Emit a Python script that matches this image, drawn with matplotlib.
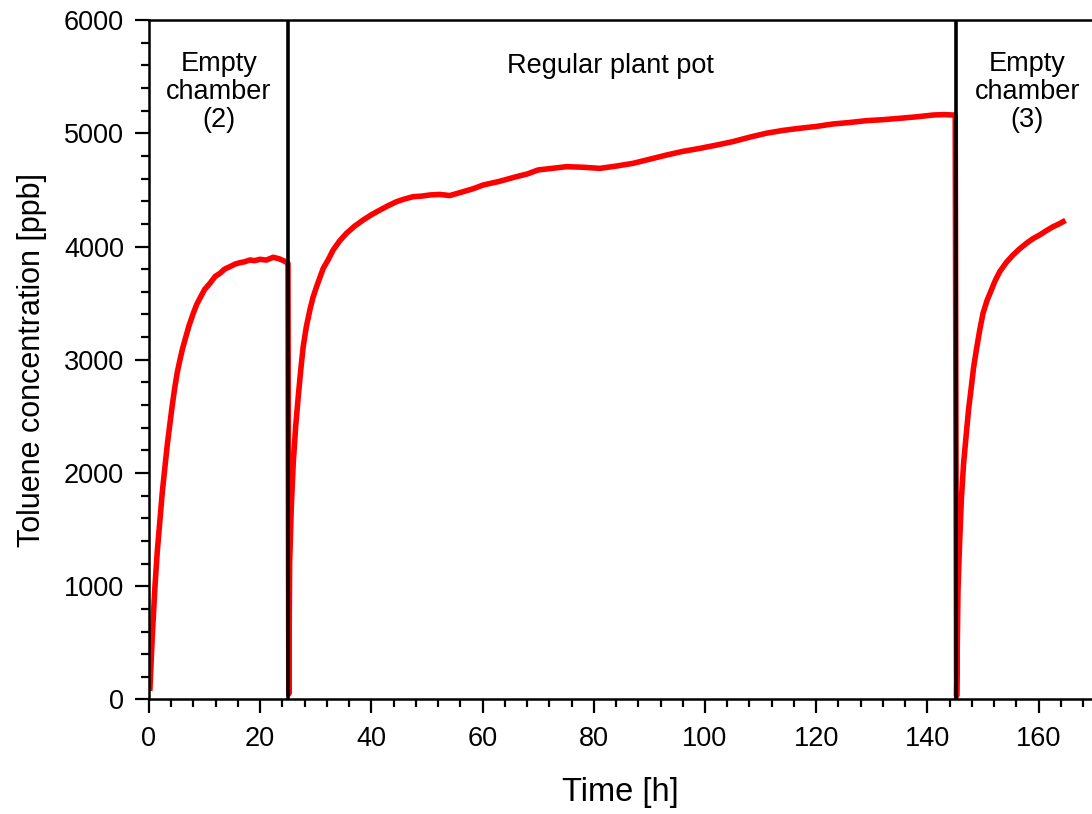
import matplotlib
matplotlib.use("Agg")
import matplotlib.pyplot as plt
from matplotlib.ticker import MultipleLocator

plt.rcParams['font.family'] = ['Liberation Sans', 'DejaVu Sans']

# toluene readings [h], [ppb]
time_h = [0.18, 0.6, 1.08, 1.5, 1.98, 2.4, 2.88, 3.3, 3.78, 4.2, 4.67, 5.1, 5.57,
          6.0, 6.47, 7.2, 7.97, 8.6, 9.17, 10.0, 10.97, 11.9, 12.76, 13.6, 14.56,
          15.5, 16.36, 17.2, 18.16, 19.0, 19.96, 21.1, 22.35, 23.5, 24.57, 25.0,
          25.15, 25.3, 25.6, 25.95, 26.4, 26.85, 27.3, 27.74, 28.3, 28.94, 29.5,
          30.14, 30.7, 31.34, 32.2, 33.13, 34.3, 35.53, 37.0, 38.53, 40.0, 41.53,
          43.0, 44.53, 46.0, 47.52, 49.0, 50.52, 52.3, 54.1, 56.51, 58.3, 60.1,
          63.0, 66.1, 68.0, 70.0, 72.5, 75.1, 78.0, 81.1, 84.0, 87.1, 90.0, 93.1,
          96.0, 99.1, 102.0, 105.0, 108.0, 111.0, 114.0, 117.0, 120.0, 123.0,
          126.0, 129.0, 132.0, 135.0, 138.0, 141.0, 143.0, 145.0,
          145.25, 145.5, 145.8, 146.1, 146.5, 147.0, 147.4, 147.9, 148.3, 148.8,
          149.4, 150.0, 150.7, 151.5, 152.2, 153.0, 154.2, 155.4, 156.6, 157.8,
          159.0, 160.2, 161.4, 162.6, 163.5, 164.4]
conc_ppb = [99, 560, 996, 1310, 1585, 1830, 2056, 2250, 2439, 2600, 2762, 2890, 2998,
            3090, 3174, 3300, 3410, 3490, 3543, 3620, 3675, 3735, 3763, 3800, 3822,
            3845, 3857, 3865, 3881, 3875, 3887, 3880, 3905, 3890, 3866, 3850,
            50, 1203, 1700, 2086, 2420, 2674, 2910, 3115, 3290, 3439, 3550,
            3645, 3720, 3807, 3880, 3969, 4050, 4117, 4180, 4234, 4280, 4322,
            4360, 4396, 4420, 4440, 4445, 4455, 4460, 4450, 4484, 4510, 4543,
            4575, 4617, 4640, 4676, 4690, 4705, 4700, 4690, 4710, 4735, 4770, 4808,
            4840, 4867, 4895, 4926, 4965, 5000, 5025, 5044, 5060, 5082,
            5095, 5111, 5120, 5132, 5145, 5161, 5165, 5160,
            30, 967, 1400, 1762, 2080, 2350, 2560, 2762, 2930, 3086,
            3260, 3410, 3520, 3616, 3700, 3777, 3860, 3925, 3980, 4028,
            4070, 4102, 4140, 4175, 4195, 4219]

switch_times = [25.0, 145.2]
phase_labels = ["Empty\nchamber\n(2)", "Regular plant pot", "Empty\nchamber\n(3)"]
phase_x = [12.6, 83.0, 158.0]
phase_y = [5364, 5590, 5364]

fig = plt.figure(figsize=(10.92, 8.14), dpi=100)
ax = fig.add_axes([0.1364, 0.1407, 1 - 0.1364, 0.9754 - 0.1407])

ax.plot(time_h, conc_ppb, color="#ff0000", lw=4, solid_joinstyle="round", zorder=2)
for t in switch_times:
    ax.axvline(t, color="black", lw=2.6, zorder=3)

for x, y, s in zip(phase_x, phase_y, phase_labels):
    ax.text(x, y, s, ha="center", va="center", fontsize=19.5, linespacing=1.1)

ax.set_xlim(0, 169.6)
ax.set_ylim(0, 6000)
ax.xaxis.set_major_locator(MultipleLocator(20))
ax.xaxis.set_minor_locator(MultipleLocator(4))
ax.yaxis.set_major_locator(MultipleLocator(1000))
ax.yaxis.set_minor_locator(MultipleLocator(200))
ax.tick_params(which="major", direction="out", length=10, width=1.6, labelsize=19.5)
ax.tick_params(axis="x", which="major", pad=9)
ax.tick_params(axis="y", which="major", pad=8)
ax.tick_params(which="minor", direction="out", length=6, width=1.6)

ax.spines["right"].set_visible(False)
for sp in ["left", "bottom", "top"]:
    ax.spines[sp].set_linewidth(1.8)

ax.set_xlabel("Time [h]", fontsize=23.5, labelpad=18)
ax.set_ylabel("Toluene concentration [ppb]", fontsize=22, labelpad=12)

fig.savefig("out.png", dpi=100)
